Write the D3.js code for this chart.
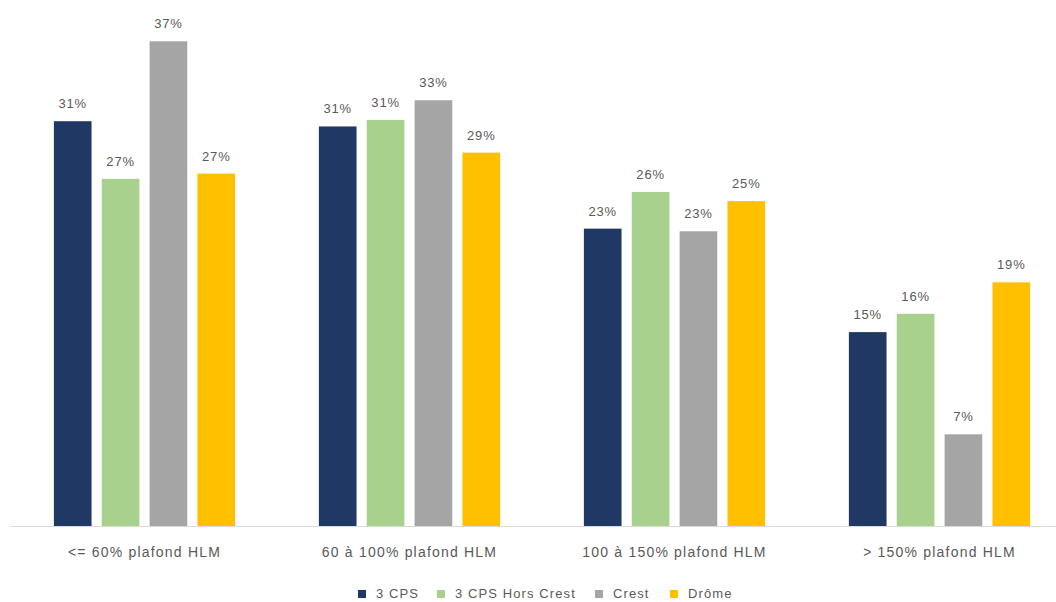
<!DOCTYPE html>
<html><head><meta charset="utf-8">
<script src="https://cdn.jsdelivr.net/npm/d3@7"></script>
<style>body{margin:0;background:#fff}svg{display:block}</style>
</head><body>
<script>
const categories = ["<= 60% plafond HLM", "60 à 100% plafond HLM", "100 à 150% plafond HLM", "> 150% plafond HLM"];
const seriesNames = ["3 CPS", "3 CPS Hors Crest", "Crest", "Drôme"];
const s3CPS = [30.9, 30.5, 22.7, 14.8];
const s3CPSHorsCrest = [26.5, 31.0, 25.5, 16.2];
const sCrest = [37.0, 32.5, 22.5, 7.0];
const sDrome = [26.9, 28.5, 24.8, 18.6];
const colors = ["#1f3864", "#a9d18e", "#a5a5a5", "#ffc000"];

const series = [s3CPS, s3CPSHorsCrest, sCrest, sDrome];
const W = 1056, H = 602;
const svg = d3.select("body").append("svg").attr("width", W).attr("height", H);
const font = "'Liberation Sans', Arial, sans-serif";

const x0 = d3.scaleBand().domain(categories).range([12, 1072]).paddingInner(0.316).paddingOuter(0.158);
const x1 = d3.scaleBand().domain(seriesNames).range([0, x0.bandwidth()]).paddingInner(0.213).paddingOuter(0);
const y = d3.scaleLinear().domain([0, 40]).range([526, 2]);

// baseline
svg.append("line").attr("x1", 10).attr("x2", W).attr("y1", y(0) + 0.5).attr("y2", y(0) + 0.5)
  .attr("stroke", "#d9d9d9").attr("stroke-width", 1);

const g = svg.selectAll("g.cat").data(categories).join("g").attr("class", "cat")
  .attr("transform", d => `translate(${x0(d)},0)`);

g.each(function(cat, ci) {
  const gg = d3.select(this);
  const rows = seriesNames.map((s, si) => ({s, si, v: series[si][ci]}));
  gg.selectAll("rect").data(rows).join("rect")
    .attr("x", d => x1(d.s)).attr("width", x1.bandwidth())
    .attr("y", d => y(d.v)).attr("height", d => y(0) - y(d.v))
    .attr("fill", d => colors[d.si]);
  gg.selectAll("text").data(rows).join("text")
    .attr("x", d => x1(d.s) + x1.bandwidth() / 2).attr("y", d => y(d.v) - 13)
    .attr("text-anchor", "middle").attr("font-family", font).attr("font-size", 13)
    .attr("letter-spacing", 0.8)
    .attr("fill", "#595959").text(d => Math.round(d.v) + "%");
});

// category axis labels
const xAxis = d3.axisBottom(x0).tickSize(0).tickPadding(0);
const ax = svg.append("g").attr("transform", `translate(0,${y(0)})`).call(xAxis);
ax.select(".domain").remove();
ax.selectAll("text").attr("font-family", font).attr("font-size", 14).attr("fill", "#595959")
  .attr("letter-spacing", 1.2).attr("dy", null).attr("y", 31);

// legend
const legX = [358, 437, 595, 670];
const leg = svg.append("g");
seriesNames.forEach((s, i) => {
  leg.append("rect").attr("x", legX[i]).attr("y", 590).attr("width", 8).attr("height", 8).attr("fill", colors[i]);
  leg.append("text").attr("x", legX[i] + 18).attr("y", 598).attr("font-family", font).attr("font-size", 13)
    .attr("letter-spacing", 1.1).attr("fill", "#595959").text(s);
});
</script>
</body></html>
